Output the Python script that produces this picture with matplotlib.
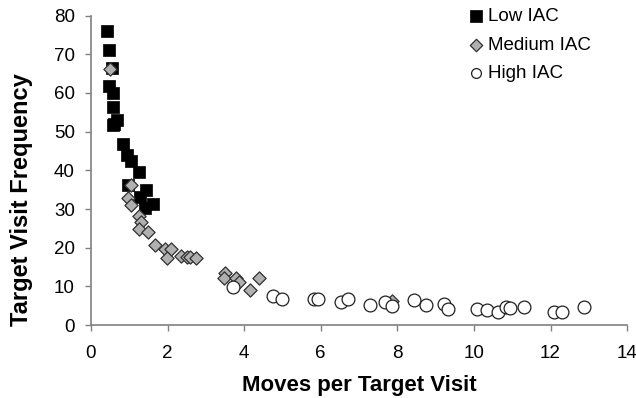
import matplotlib
matplotlib.use("Agg")
import matplotlib.pyplot as plt

plt.rcParams['font.family'] = ['Liberation Sans', 'DejaVu Sans']

# Low IAC
low_x = [0.41, 0.48, 0.54, 0.48, 0.57, 0.57, 0.67, 0.61, 0.58, 0.84, 0.93, 1.04,
         1.25, 0.97, 1.44, 1.28, 1.63, 1.41]
low_y = [76.0, 71.2, 66.5, 61.7, 60.0, 56.4, 53.1, 52.1, 51.6, 46.8, 44.0, 42.5,
         39.6, 36.1, 35.0, 33.1, 31.3, 30.2]

# Medium IAC
med_x = [0.51, 1.04, 0.97, 1.04, 1.26, 1.32, 1.26, 1.48, 1.67, 1.93, 2.10, 1.98,
         2.35, 2.52, 2.58, 2.74, 3.50, 3.48, 3.80, 3.87, 4.15, 4.39, 7.87]
med_y = [66.3, 36.2, 32.8, 31.1, 28.2, 26.6, 24.8, 24.0, 20.7, 19.6, 19.7, 17.3,
         17.9, 17.5, 17.7, 17.3, 13.6, 12.1, 12.1, 11.2, 9.2, 12.3, 6.3]

# High IAC
high_x = [3.72, 4.76, 5.00, 5.83, 5.94, 6.53, 6.72, 7.28, 7.68, 7.85, 8.43, 8.74,
          9.23, 9.33, 10.09, 10.33, 10.63, 10.84, 10.94, 11.31, 12.10, 12.31, 12.88]
high_y = [9.8, 7.6, 6.8, 6.8, 6.8, 5.9, 6.8, 5.1, 5.9, 4.9, 6.4, 5.1,
          5.4, 4.2, 4.2, 4.0, 3.4, 4.8, 4.5, 4.6, 3.3, 3.5, 4.6]

fig = plt.figure(figsize=(6.36, 3.98), dpi=100)
ax = fig.add_axes([0.143, 0.183, 0.843, 0.778])

ax.scatter(low_x, low_y, marker='s', s=75, c='black', edgecolors='black',
           linewidths=0.5, label='Low IAC', zorder=3)
ax.scatter(med_x, med_y, marker='D', s=45, c='#b0b0b0', edgecolors='#303030',
           linewidths=0.9, label='Medium IAC', zorder=4)
ax.scatter(high_x, high_y, marker='o', s=85, c='white', edgecolors='#202020',
           linewidths=0.9, label='High IAC', zorder=5)

ax.set_xlim(0, 14)
ax.set_ylim(0, 80)
ax.set_xticks(range(0, 15, 2))
ax.set_yticks(range(0, 81, 10))

for side in ['top', 'right']:
    ax.spines[side].set_visible(False)
for side in ['left', 'bottom']:
    ax.spines[side].set_color('#808080')
    ax.spines[side].set_linewidth(1.2)
ax.tick_params(direction='out', length=4.5, width=1, color='#808080', labelsize=13.5)
ax.tick_params(axis='x', pad=10)
ax.tick_params(axis='y', pad=7)

ax.set_xlabel('Moves per Target Visit', fontsize=16, fontweight='bold', va='center')
ax.set_ylabel('Target Visit Frequency', fontsize=17, fontweight='bold', va='center')
ax.xaxis.set_label_coords(0.5, -0.195)
ax.yaxis.set_label_coords(-0.129, 0.404)

leg = ax.legend(loc='upper left', frameon=False, fontsize=13.5, handletextpad=0.15,
                borderaxespad=0, borderpad=0, labelspacing=0.62, handlelength=1.0,
                bbox_to_anchor=(0.70, 1.025))
leg.legend_handles[0].set_sizes([70])
leg.legend_handles[1].set_sizes([40])
leg.legend_handles[2].set_sizes([50])

fig.savefig('out.png', dpi=100)
